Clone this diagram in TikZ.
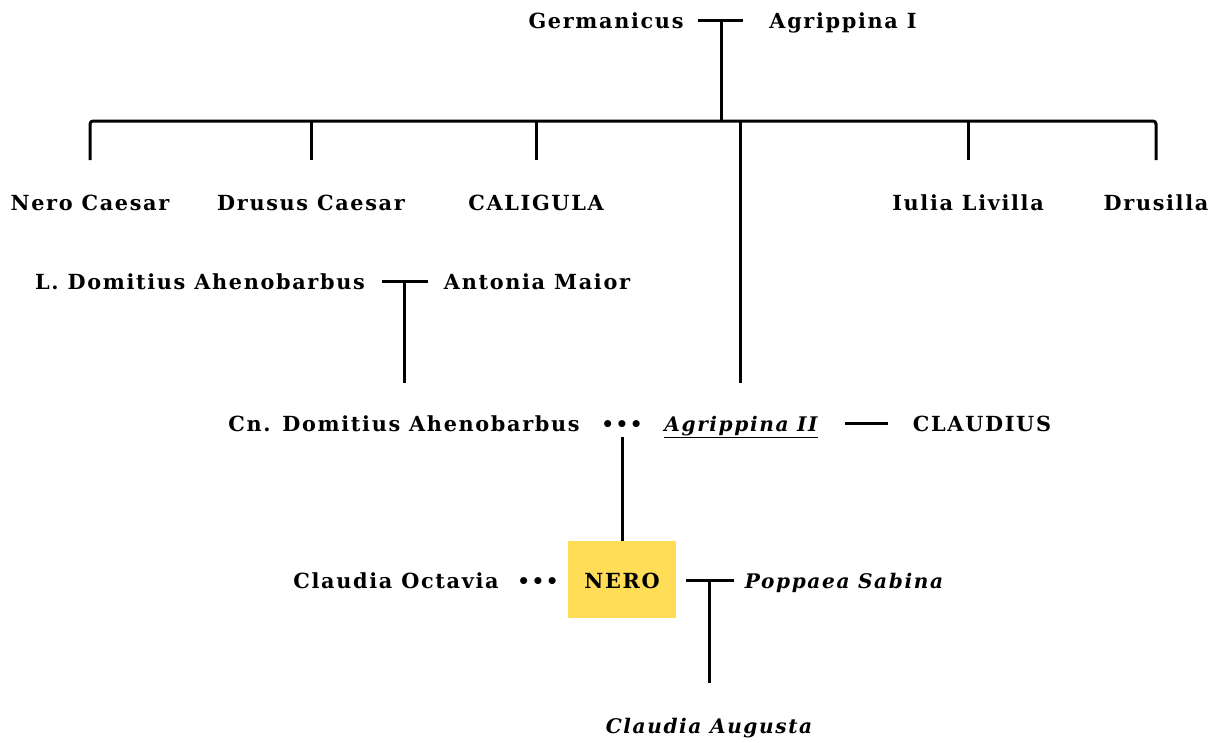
\documentclass[tikz,border=0pt]{standalone}
\usepackage{fontspec}
\setmainfont{DejaVu Serif}
\newfontfamily\namefont[LetterSpace=8]{DejaVu Serif}
\definecolor{neroyellow}{HTML}{FFDD57}
\begin{document}
\begin{tikzpicture}[x=1pt,y=-1pt,
  person/.style={font=\namefont\fontsize{20.8}{24}\selectfont\bfseries, inner sep=0pt, anchor=base},
  spouse/.style={font=\namefont\fontsize{20.1}{24}\selectfont\bfseries\itshape, inner sep=0pt, anchor=base},
  link/.style={line width=3pt},
  dots/.style={font=\fontsize{20}{24}\selectfont\bfseries, inner sep=0pt, anchor=base}]
\useasboundingbox (0,0) rectangle (1221,742);

% first generation
\node[person] (germ) at (606,28) {Germanicus};
\node[person] (agr1) at (843,28) {Agrippina I};
\coordinate (m1l) at (698,20);
\coordinate (m1r) at (743,20);
\coordinate (m1) at (721,20);
\coordinate (sib) at (721,121);
\draw[link] (m1l) -- (m1r);
\draw[link] (m1) -- (sib);

% children of Germanicus and Agrippina I
\node[person] (nc) at (90,210) {Nero Caesar};
\node[person] (dc) at (311,210) {Drusus Caesar};
\node[person] (cal) at (536,210) {CALIGULA};
\node[person] (il) at (968,210) {Iulia Livilla};
\node[person] (dru) at (1156,210) {Drusilla};
\coordinate (d1) at (90,160);
\coordinate (d2) at (311,160);
\coordinate (d3) at (536,160);
\coordinate (d4) at (968,160);
\coordinate (d5) at (1156,160);
\draw[link, rounded corners=3pt] (d1) |- (sib) -| (d5);
\draw[link] (d2) -- (d2 |- sib);
\draw[link] (d3) -- (d3 |- sib);
\draw[link] (d4) -- (d4 |- sib);
\coordinate (a2top) at (740,121);
\coordinate (a2end) at (740,383);
\draw[link] (a2top) -- (a2end);

% Domitii
\node[person] (ldom) at (200,289) {L. Domitius Ahenobarbus};
\node[person] (ant) at (537,289) {Antonia Maior};
\coordinate (m2l) at (382,281);
\coordinate (m2r) at (428,281);
\coordinate (m2) at (404,281);
\coordinate (m2end) at (404,383);
\draw[link] (m2l) -- (m2r);
\draw[link] (m2) -- (m2end);

% parents of Nero
\node[person] (cndom) at (404,431) {Cn. Domitius Ahenobarbus};
\node[dots] (dots1) at (622,431) {\textbullet\kern1.5pt\textbullet\kern1.5pt\textbullet};
\node[spouse] (agr2) at (741,431) {\underline{Agrippina II}};
\coordinate (m3l) at (845,423);
\coordinate (m3r) at (888,423);
\draw[link] (m3l) -- (m3r);
\node[person] (clau) at (982,431) {CLAUDIUS};

% Nero
\node[fill=neroyellow, minimum width=108pt, minimum height=77pt, inner sep=0pt] (nerobox) at (622,579.5) {};
\node[person] (nero) at (622,588) {NERO};
\coordinate (m4top) at (622,437);
\draw[link] (m4top) -- (nerobox.north);
\node[person] (oct) at (396,588) {Claudia Octavia};
\node[dots] (dots2) at (538,588) {\textbullet\kern1.5pt\textbullet\kern1.5pt\textbullet};
\node[spouse] (pop) at (844,588) {Poppaea Sabina};
\coordinate (m5l) at (686,580);
\coordinate (m5r) at (734,580);
\coordinate (m5) at (709,580);
\coordinate (m5end) at (709,683);
\draw[link] (m5l) -- (m5r);
\draw[link] (m5) -- (m5end);
\node[spouse] (aug) at (709,733) {Claudia Augusta};
\end{tikzpicture}
\end{document}
